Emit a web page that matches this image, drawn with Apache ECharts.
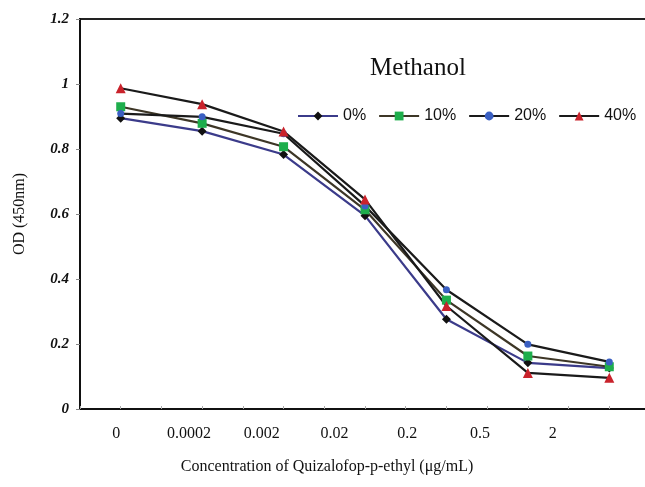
<!DOCTYPE html>
<html>
<head>
<meta charset="utf-8">
<script src="https://cdn.jsdelivr.net/npm/echarts@6/dist/echarts.min.js"></script>
<style>
  html, body { margin: 0; padding: 0; background: #fff; }
  #chart { width: 645px; height: 487px; }
</style>
</head>
<body>
<div id="chart"></div>
<script>
// concentration labels (µg/mL)
const categories = ['0', '0.0002', '0.002', '0.02', '0.2', '0.5', '2'];
const seriesNames = ['0%', '10%', '20%', '40%'];
// OD values
const od0 = [0.895, 0.855, 0.783, 0.595, 0.276, 0.142, 0.126];
const od10 = [0.930, 0.879, 0.807, 0.613, 0.335, 0.163, 0.130];
const od20 = [0.909, 0.899, 0.847, 0.625, 0.367, 0.199, 0.145];
const od40 = [0.987, 0.938, 0.854, 0.645, 0.317, 0.111, 0.096];
const yTicks = [0, 0.2, 0.4, 0.6, 0.8, 1, 1.2];

const serif = 'Liberation Serif';
const chart = echarts.init(document.getElementById('chart'));

function mkSeries(name, data, lineColor, markColor, symbol, size) {
    return {
        name: name,
        type: 'line',
        xAxisIndex: 0,
        yAxisIndex: 0,
        data: data,
        symbol: symbol,
        symbolSize: size,
        lineStyle: { color: lineColor, width: 2.2 },
        itemStyle: { color: markColor },
        animation: false
    };
}

const options = {
    backgroundColor: '#fff',
    grid: [
        // box runs just past the right edge of the picture
        { left: 80, top: 19, bottom: 78, width: 570, outerBoundsMode: 'none',
          show: true, borderColor: '#222', borderWidth: 2 },
        // labels in the original sit a bit off the points, so they get their own narrower grid
        { left: 80, top: 19, bottom: 78, width: 509, outerBoundsMode: 'none', show: false }
    ],
    legend: {
        data: seriesNames,
        left: 292,
        top: 103,
        itemWidth: 40,
        itemHeight: 11,
        itemGap: 12,
        textStyle: { fontFamily: 'Liberation Sans', fontSize: 16, color: '#111' }
    },
    graphic: [
        {
            type: 'text', x: 418, y: 68,
            style: { text: 'Methanol', textAlign: 'center', textVerticalAlign: 'middle',
                font: '25px "Liberation Serif"', fill: '#111' }
        },
        {
            type: 'text', x: 327, y: 467,
            style: { text: 'Concentration of Quizalofop-p-ethyl (\u03bcg/mL)',
                textAlign: 'center', textVerticalAlign: 'middle', font: '16px "Liberation Serif"', fill: '#111' }
        }
    ],
    xAxis: [
        {
            type: 'category',
            gridIndex: 0,
            data: categories,
            boundaryGap: true,
            axisLine: { lineStyle: { color: '#111', width: 2 } },
            axisTick: { show: false },
            axisLabel: { show: false }
        },
        {
            type: 'category',
            gridIndex: 1,
            data: categories,
            axisLine: { show: false },
            axisTick: { show: false },
            axisLabel: { fontFamily: serif, fontSize: 16, color: '#111', margin: 17 }
        },
        {
            // faint inner ticks along the bottom
            type: 'value',
            gridIndex: 0,
            position: 'bottom',
            min: 0,
            max: 14,
            interval: 1,
            axisLine: { show: false },
            axisTick: { show: true, inside: true, length: 3, lineStyle: { color: '#aaa' } },
            axisLabel: { show: false },
            splitLine: { show: false }
        }
    ],
    yAxis: [
        {
            type: 'value',
            gridIndex: 0,
            min: 0,
            max: 1.2,
            interval: 0.2,
            name: 'OD (450nm)',
            nameLocation: 'middle',
            nameGap: 52,
            nameTextStyle: { fontFamily: serif, fontSize: 16, color: '#111' },
            axisLine: { show: true, lineStyle: { color: '#111', width: 2 } },
            axisTick: { show: true, length: 4, lineStyle: { color: '#888' } },
            axisLabel: {
                margin: 11,
                fontFamily: serif, fontSize: 15, fontWeight: 'bold', fontStyle: 'italic', color: '#111',
                formatter: function (v) { return yTicks.indexOf(+v.toFixed(1)) >= 0 ? String(+v.toFixed(1)) : ''; }
            },
            splitLine: { show: false }
        },
        { type: 'value', gridIndex: 1, min: 0, max: 1.2, show: false }
    ],
    series: [
        mkSeries('0%', od0, '#3b3b8a', '#111111', 'diamond', 9),
        mkSeries('10%', od10, '#3d3626', '#1eae4c', 'rect', 9),
        mkSeries('20%', od20, '#1a1a1a', '#3a5fc2', 'circle', 7),
        mkSeries('40%', od40, '#1a1a1a', '#c9222b', 'triangle', 10)
    ]
};
chart.setOption(options);
</script>
</body>
</html>
